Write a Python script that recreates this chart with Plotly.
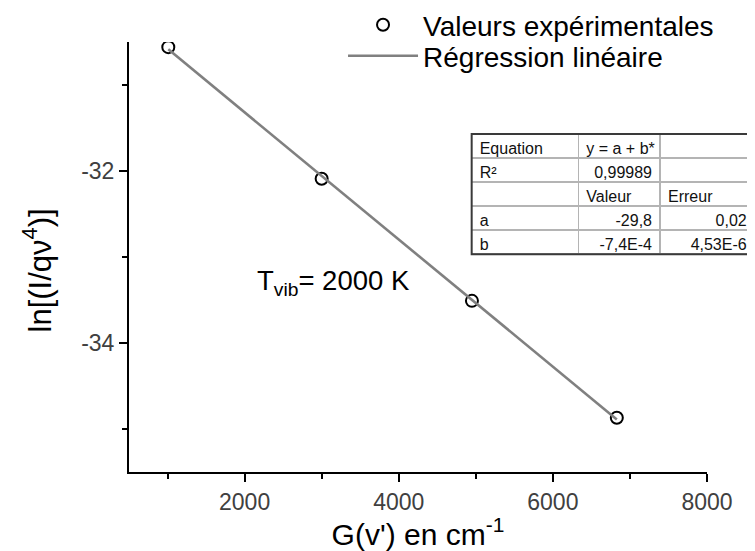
import numpy as np
import plotly.graph_objects as go

# Data
g_values = [1010, 3000, 4950, 6830]          # G(v') in cm^-1
ln_values = [-30.56, -32.09, -33.51, -34.87]  # ln[(I/q nu^4)]

# Fit table contents (right-aligned numbers / left-aligned labels)
NB = "\u00a0"
tbl_head_left = ["Equation", NB.join(["y", "=", "a", "+", "b*"]), ""]
tbl_col1_left = ["R²", "", "a", "b"]
tbl_col2_left = ["", "Valeur", "", ""]
tbl_col3_left = ["", "Erreur", "", ""]
tbl_col2_right = ["0,99989", "", "-29,8", "-7,4E-4"]
tbl_col3_right = ["", "", "0,02", "4,53E-6"]

x_ticks = [2000, 4000, 6000, 8000]
x_minor = [1000, 3000, 5000, 7000]
y_ticks = [-34, -32]
y_ticklabels = ["-34", "-32"]
y_minor = [-35, -33, -31]

# linear regression on the data
b, a = np.polyfit(g_values, ln_values, 1)
fit_x = [min(g_values), max(g_values)]
fit_y = [a + b * v for v in fit_x]

FONT = "Arial, 'Liberation Sans', sans-serif"
TDOM = dict(x=[0.5474, 1.0], y=[0.5065, 0.786])
TFONT = dict(family=FONT, size=16, color="#111")
CW = [107, 82, 95]

fig = go.Figure()
fig.add_trace(go.Scatter(
    x=g_values, y=ln_values, mode="markers", name="Valeurs expérimentales",
    marker=dict(symbol="circle-open", size=12, color="black", line=dict(width=2, color="black")),
    legend="legend",
))
fig.add_trace(go.Scatter(
    x=fit_x, y=fit_y, mode="lines", name="Régression linéaire",
    line=dict(color="#808080", width=2.6), legend="legend2",
))

# base table: grid + right aligned numbers
fig.add_trace(go.Table(
    domain=TDOM, columnwidth=CW,
    header=dict(values=["", "", ""], height=24, fill=dict(color="white"),
                line=dict(color="#b4b4b4", width=1.5), font=TFONT),
    cells=dict(values=[["", "", "", ""], tbl_col2_right, tbl_col3_right],
               align=["left", "right", "right"], height=24, fill=dict(color="white"),
               line=dict(color="#b4b4b4", width=1.5), font=TFONT),
))
# overlay table: left aligned labels
fig.add_trace(go.Table(
    domain=TDOM, columnwidth=CW,
    header=dict(values=tbl_head_left, align="left", height=24, fill=dict(color="rgba(0,0,0,0)"),
                line=dict(color="rgba(0,0,0,0)", width=0), font=TFONT),
    cells=dict(values=[tbl_col1_left, tbl_col2_left, tbl_col3_left],
               align="left", height=24, fill=dict(color="rgba(0,0,0,0)"),
               line=dict(color="rgba(0,0,0,0)", width=0), font=TFONT),
))

LEG = dict(xanchor="left", yanchor="top", bgcolor="rgba(0,0,0,0)",
           font=dict(size=28, color="black", family=FONT), itemwidth=70)

fig.update_layout(
    width=747, height=543,
    margin=dict(l=121, r=0, t=34, b=79, autoexpand=False),
    paper_bgcolor="white", plot_bgcolor="white",
    font=dict(family=FONT, color="black"),
    showlegend=True,
    legend=dict(x=0.3419, y=1.0977, **LEG),
    legend2=dict(x=0.3419, y=1.0256, **LEG),
    xaxis=dict(domain=[0, 0.9233], range=[500, 8000], tickvals=x_ticks,
               showline=True, linecolor="black", linewidth=2, ticks="outside", ticklen=8,
               tickwidth=2, tickcolor="black", showgrid=False, zeroline=False,
               tickfont=dict(size=23, color="#404040"),
               minor=dict(tickvals=x_minor, ticks="outside", ticklen=5,
                          tickwidth=2, tickcolor="black"),
               title=dict(text="G(v') en cm<sup>-1</sup>", font=dict(size=30, color="black"), standoff=8),
               automargin=False),
    yaxis=dict(range=[-35.5, -30.5], tickvals=y_ticks, ticktext=y_ticklabels,
               showline=True, linecolor="black", linewidth=2, ticks="outside", ticklen=8,
               tickwidth=2, tickcolor="black", showgrid=False, zeroline=False,
               tickfont=dict(size=23, color="#404040"),
               minor=dict(tickvals=y_minor, ticks="outside", ticklen=5,
                          tickwidth=2, tickcolor="black"),
               automargin=False),
    shapes=[dict(type="rect", xref="paper", yref="paper", x0=0.5474, x1=1.02, y0=0.5065, y1=0.786,
                 line=dict(color="#3a3a3a", width=2), fillcolor="rgba(0,0,0,0)", layer="above")],
    annotations=[
        dict(text="T<sub>vib</sub>= 2000 K", xref="paper", yref="paper", x=0.2013, y=0.44,
             xanchor="left", yanchor="middle", showarrow=False,
             font=dict(size=27.5, color="black", family=FONT)),
        dict(text="ln[(I/qν<sup>4</sup>)]", xref="paper", yref="paper", x=-0.1462, y=0.4698,
             xanchor="center", yanchor="middle", textangle=-90, showarrow=False,
             font=dict(size=31, color="black", family=FONT)),
    ],
)

fig.write_html("out.html")
